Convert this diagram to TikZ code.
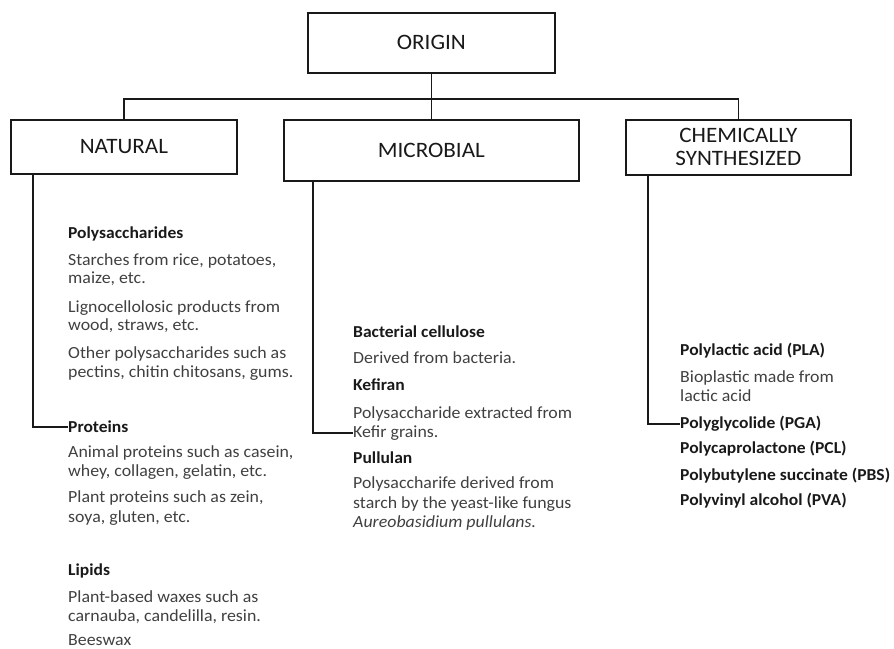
\documentclass[tikz,border=0pt]{standalone}
\usepackage{fontspec}
\setmainfont[FakeStretch=1.05]{Carlito}
\definecolor{ink}{RGB}{25,25,25}
\definecolor{desc}{RGB}{64,64,64}
\begin{document}
\begin{tikzpicture}[x=1pt,y=-1pt,
  catbox/.style={draw=ink,line width=1.7pt,inner sep=0pt,anchor=north west,
    align=center,font=\fontsize{22}{25}\selectfont,text=ink},
  link/.style={draw=ink,line width=1.7pt},
  head/.style={anchor=base west,inner sep=0pt,font=\fontsize{16.7}{19.5}\selectfont\bfseries,text=ink},
  txt/.style={anchor=base west,inner sep=0pt,font=\fontsize{17}{19.5}\selectfont,text=desc}]
\useasboundingbox (0,0) rectangle (894,648);

% category boxes
\node[catbox,minimum width=247pt,minimum height=60pt] (origin) at (307,12) {ORIGIN};
\node[catbox,minimum width=226pt,minimum height=54pt] (natural) at (10,119) {NATURAL};
\node[catbox,minimum width=295pt,minimum height=61pt] (microbial) at (283,119) {MICROBIAL};
\node[catbox,minimum width=225pt,minimum height=55pt] (chemical) at (625,119) {CHEMICALLY\\[-2pt]SYNTHESIZED};

% tree connectors
\draw[link] (origin.south) -- (microbial.north);
\draw[link] (natural.north) -- ++(0,-20) -| (chemical.north);

% natural sources
\node[head] (polysac) at (68,238.5) {Polysaccharides};
\node[txt] (starchA) at (68,265) {Starches from rice, potatoes,};
\node[txt] (starchB) at (68,283.5) {maize, etc.};
\node[txt] (lignoA) at (68,312.5) {Lignocellolosic products from};
\node[txt] (lignoB) at (68,330.5) {wood, straws, etc.};
\node[txt] (otherA) at (68,358.5) {Other polysaccharides such as};
\node[txt] (otherB) at (68,377.5) {pectins, chitin chitosans, gums.};
\node[head] (proteins) at (68,432.5) {Proteins};
\node[txt] (animalA) at (68,457.5) {Animal proteins such as casein,};
\node[txt] (animalB) at (68,476.5) {whey, collagen, gelatin, etc.};
\node[txt] (plantA) at (68,502.5) {Plant proteins such as zein,};
\node[txt] (plantB) at (68,522.5) {soya, gluten, etc.};
\node[head] (lipids) at (68,575.5) {Lipids};
\node[txt] (waxA) at (68,602.5) {Plant-based waxes such as};
\node[txt] (waxB) at (68,621.5) {carnauba, candelilla, resin.};
\node[txt] (beeswax) at (68,645) {Beeswax};

% microbial sources
\node[head] (bactcell) at (353,337.5) {Bacterial cellulose};
\node[txt] (bactdesc) at (353,363.5) {Derived from bacteria.};
\node[head] (kefiran) at (353,390.5) {Kefiran};
\node[txt] (kefA) at (353,418.5) {Polysaccharide extracted from};
\node[txt] (kefB) at (353,437.5) {Kefir grains.};
\node[head] (pullulan) at (353,463.5) {Pullulan};
\node[txt] (pullA) at (353,488.5) {Polysaccharife derived from};
\node[txt] (pullB) at (353,508) {starch by the yeast-like fungus};
\node[txt] (pullC) at (353,527.5) {\itshape Aureobasidium pullulans.};

% chemically synthesized
\node[head] (pla) at (680,355.5) {Polylactic acid (PLA)};
\node[txt] (plaA) at (680,382.5) {Bioplastic made from};
\node[txt] (plaB) at (680,401.5) {lactic acid};
\node[head] (pga) at (680,428.5) {Polyglycolide (PGA)};
\node[head] (pcl) at (680,453.5) {Polycaprolactone (PCL)};
\node[head] (pbs) at (680,480.5) {Polybutylene succinate (PBS)};
\node[head] (pva) at (680,505.5) {Polyvinyl alcohol (PVA)};

% branch connectors
\draw[link] ([xshift=23pt]natural.south west) |- (proteins.west);
\draw[link] ([xshift=30pt]microbial.south west) |- (kefB.west);
\draw[link] ([xshift=23pt]chemical.south west) |- (pga.west);
\end{tikzpicture}
\end{document}
